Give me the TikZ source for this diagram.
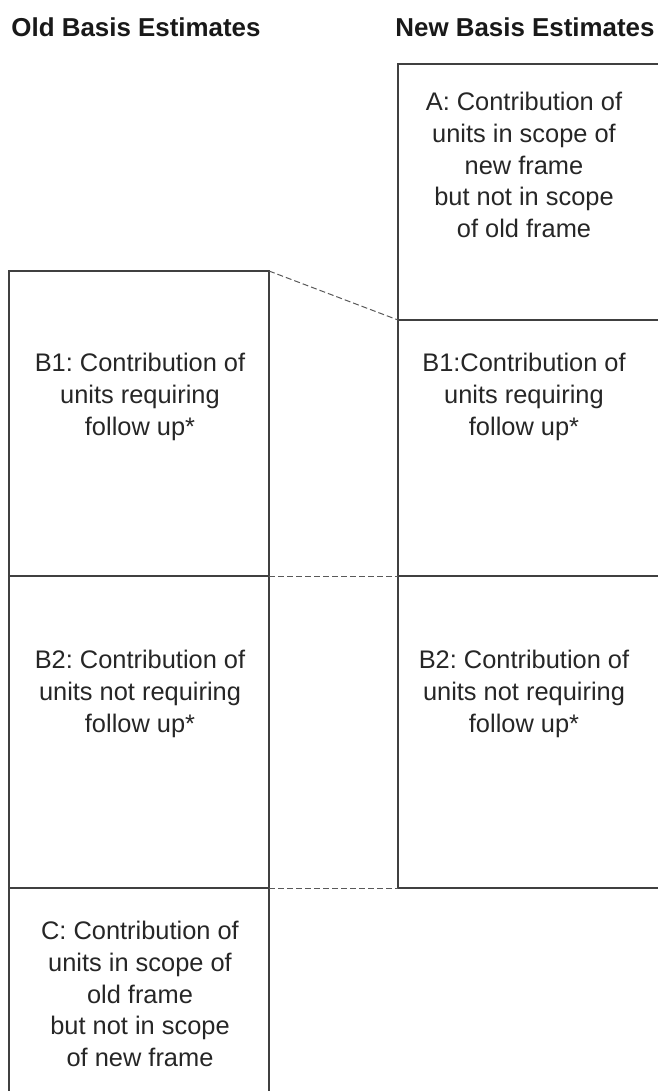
\documentclass[tikz,border=0pt]{standalone}
\usepackage{fontspec}
\setmainfont{Liberation Sans}
\frenchspacing
\begin{document}
\begin{tikzpicture}[x=1bp,y=-1bp,
  cell/.style={draw=black!75, line width=1.1bp, rectangle, outer sep=0pt, inner sep=0pt},
  conn/.style={draw=black!65, line width=1bp, dash pattern=on 6bp off 3bp},
  body/.style={font=\fontsize{25.5}{32}\selectfont, align=center, text=black!85, inner sep=0pt},
  head/.style={font=\bfseries\fontsize{26}{30}\selectfont, text=black!90, inner sep=0pt}]
\useasboundingbox (0,0) rectangle (658,1091);
% left column
\node[cell, minimum width=260bp, minimum height=305bp] (b1l) at (139,423.5) {};
\node[cell, minimum width=260bp, minimum height=312bp] (b2l) at (139,732) {};
\node[cell, minimum width=260bp, minimum height=220bp] (cl) at (139,998) {};
% right column
\node[cell, minimum width=264bp, minimum height=256bp] (ar) at (530,192) {};
\node[cell, minimum width=264bp, minimum height=256bp] (b1r) at (530,448) {};
\node[cell, minimum width=264bp, minimum height=312bp] (b2r) at (530,732) {};
% connectors
\draw[conn] (b1l.north east) -- (b1r.north west);
\draw[conn] (b2l.north east) -- (b2r.north west);
\draw[conn] (b2l.south east) -- (b2r.south west);
% headers
\node[head] (hold) at (136,27) {Old Basis Estimates};
\node[head] (hnew) at (525,27) {New Basis Estimates};
% texts
\node[body] (ta) at (524,165) {A: Contribution of\\units in scope of\\new frame\\but not in scope\\of old frame};
\node[body] (tb1l) at (140,397) {B1: Contribution of\\units requiring\\follow up*};
\node[body] (tb1r) at (524,397) {B1:Contribution of\\units requiring\\follow up*};
\node[body] (tb2l) at (140,694) {B2: Contribution of\\units not requiring\\follow up*};
\node[body] (tb2r) at (524,694) {B2: Contribution of\\units not requiring\\follow up*};
\node[body] (tc) at (140,994) {C: Contribution of\\units in scope of\\old frame\\but not in scope\\of new frame};
\end{tikzpicture}
\end{document}
